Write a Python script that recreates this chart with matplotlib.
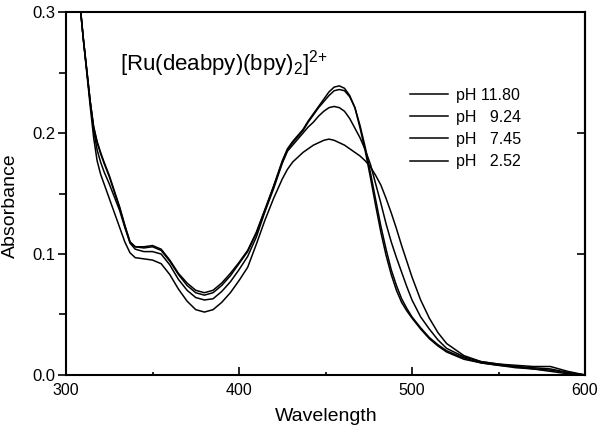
"""Absorption spectra of [Ru(deabpy)(bpy)2]2+ at four pH values."""
import matplotlib.pyplot as plt
import matplotlib as mpl
import numpy as np

plt.rcParams["font.family"] = ["Liberation Sans", "DejaVu Sans"]
plt.rcParams["mathtext.fontset"] = "custom"
plt.rcParams["mathtext.rm"] = "Liberation Sans"
plt.rcParams["mathtext.it"] = "Liberation Sans"
plt.rcParams["mathtext.default"] = "rm"

# --- data --------------------------------------------------------------
wavelength = [306, 308, 310, 312, 314, 316, 318, 320, 322,
              325, 328, 331, 334, 337,
              340, 345, 350, 355, 360, 365, 370, 375, 380, 385, 390, 395,
              400, 405, 410, 415, 420, 425,
              428, 431, 434, 437,
              440, 443, 446, 449, 452, 455, 458, 461, 464, 467, 470, 473,
              476, 479, 482, 485, 488, 491, 494, 497, 500,
              505, 510, 515, 520,
              530, 540, 550, 560, 570, 580, 590, 600]

abs_ph1180 = [0.338, 0.308, 0.278, 0.252, 0.226, 0.205, 0.193, 0.184, 0.176,
              0.165, 0.152, 0.139, 0.124, 0.110,
              0.106, 0.106, 0.107, 0.104, 0.095, 0.084, 0.076, 0.070, 0.068,
              0.070, 0.076, 0.084, 0.093, 0.103, 0.118, 0.137, 0.156, 0.177,
              0.187, 0.193, 0.198, 0.203,
              0.210, 0.216, 0.222, 0.228, 0.234, 0.238, 0.239, 0.237, 0.231,
              0.221, 0.204, 0.185, 0.163, 0.140, 0.118, 0.099, 0.083, 0.070,
              0.060, 0.053, 0.047,
              0.038, 0.030, 0.024, 0.019,
              0.013, 0.010, 0.008, 0.007, 0.005, 0.004, 0.002, 0.000]

abs_ph924 = [0.338, 0.308, 0.278, 0.252, 0.226, 0.205, 0.192, 0.183, 0.175,
             0.164, 0.151, 0.138, 0.123, 0.110,
             0.106, 0.105, 0.106, 0.103, 0.094, 0.083, 0.074, 0.068, 0.066,
             0.068, 0.074, 0.082, 0.092, 0.102, 0.117, 0.136, 0.156, 0.176,
             0.186, 0.192, 0.197, 0.202,
             0.209, 0.215, 0.221, 0.226, 0.231, 0.235, 0.236, 0.235, 0.230,
             0.221, 0.206, 0.188, 0.167, 0.145, 0.123, 0.104, 0.087, 0.074,
             0.063, 0.055, 0.048,
             0.039, 0.031, 0.025, 0.020,
             0.014, 0.010, 0.008, 0.006, 0.005, 0.003, 0.001, 0.000]

abs_ph745 = [0.338, 0.308, 0.278, 0.252, 0.226, 0.202, 0.186, 0.176, 0.168,
             0.158, 0.147, 0.136, 0.122, 0.109,
             0.104, 0.102, 0.102, 0.100, 0.091, 0.079, 0.070, 0.064, 0.062,
             0.063, 0.069, 0.077, 0.087, 0.098, 0.114, 0.135, 0.154, 0.175,
             0.185, 0.190, 0.195, 0.200,
             0.205, 0.209, 0.214, 0.218, 0.221, 0.222, 0.221, 0.218, 0.212,
             0.204, 0.196, 0.186, 0.174, 0.158, 0.142, 0.125, 0.110, 0.097,
             0.085, 0.073, 0.062,
             0.048, 0.038, 0.029, 0.022,
             0.015, 0.011, 0.009, 0.007, 0.006, 0.005, 0.002, 0.000]

abs_ph252 = [0.338, 0.308, 0.278, 0.250, 0.222, 0.196, 0.177, 0.166, 0.158,
             0.146, 0.134, 0.122, 0.110, 0.101,
             0.097, 0.096, 0.095, 0.092, 0.083, 0.071, 0.061, 0.054, 0.052,
             0.054, 0.060, 0.068, 0.078, 0.089, 0.108, 0.128, 0.146, 0.162,
             0.170, 0.176, 0.180, 0.184,
             0.187, 0.190, 0.192, 0.194, 0.195, 0.194, 0.192, 0.190, 0.187,
             0.184, 0.181, 0.177, 0.172, 0.165, 0.157, 0.146, 0.134, 0.121,
             0.107, 0.094, 0.081,
             0.062, 0.047, 0.035, 0.026,
             0.016, 0.011, 0.009, 0.008, 0.007, 0.007, 0.003, 0.000]

labels = ["pH 11.80", "pH   9.24", "pH   7.45", "pH   2.52"]
title = "[Ru(deabpy)(bpy)$_2]^{2{+}}$"

# --- figure ------------------------------------------------------------
fig = plt.figure(figsize=(6, 4.32), dpi=100)
ax = fig.add_axes([0.11, 0.132, 0.865, 0.840])

for y, lab in zip([abs_ph1180, abs_ph924, abs_ph745, abs_ph252], labels):
    ax.plot(wavelength, y, color="black", lw=1.1, label=lab,
            solid_joinstyle="round")

ax.set_xlim(300, 600)
ax.set_ylim(0, 0.3)

ax.xaxis.set_major_locator(mpl.ticker.MultipleLocator(100))
ax.xaxis.set_minor_locator(mpl.ticker.MultipleLocator(50))
ax.yaxis.set_major_locator(mpl.ticker.MultipleLocator(0.1))
ax.yaxis.set_minor_locator(mpl.ticker.MultipleLocator(0.05))
ax.yaxis.set_major_formatter(mpl.ticker.StrMethodFormatter("{x:.1f}"))

ax.tick_params(axis="x", which="both", direction="in", top=False,
               labelsize=11.5, pad=6, width=1.2)
ax.tick_params(axis="x", which="major", length=5.5)
ax.tick_params(axis="x", which="minor", length=2.5)
ax.tick_params(axis="y", which="both", direction="out", labelsize=12,
               pad=2, width=1.2)
ax.tick_params(axis="y", which="major", length=5.5)
ax.tick_params(axis="y", which="minor", length=5)

# inward major ticks on the right side
ax_r = ax.secondary_yaxis("right")
ax_r.yaxis.set_major_locator(mpl.ticker.MultipleLocator(0.1))
ax_r.tick_params(direction="in", length=5.5, width=1.2, labelright=False)
ax_r.spines["right"].set_linewidth(1.5)

for sp in ax.spines.values():
    sp.set_linewidth(1.5)

ax.set_xlabel("Wavelength", fontsize=14)
ax.set_ylabel("Absorbance", fontsize=14)
ax.xaxis.set_label_coords(0.502, -0.092)
ax.yaxis.set_label_coords(-0.09, 0.467)

ax.text(0.104, 0.838, title, transform=ax.transAxes, fontsize=16,
        ha="left", va="baseline")

ax.legend(loc="upper left", bbox_to_anchor=(0.663, 0.792), frameon=False,
          fontsize=11.5, handlelength=2.4, handletextpad=0.5,
          labelspacing=0.45, borderpad=0, borderaxespad=0)

fig.savefig("out.png", dpi=100)
